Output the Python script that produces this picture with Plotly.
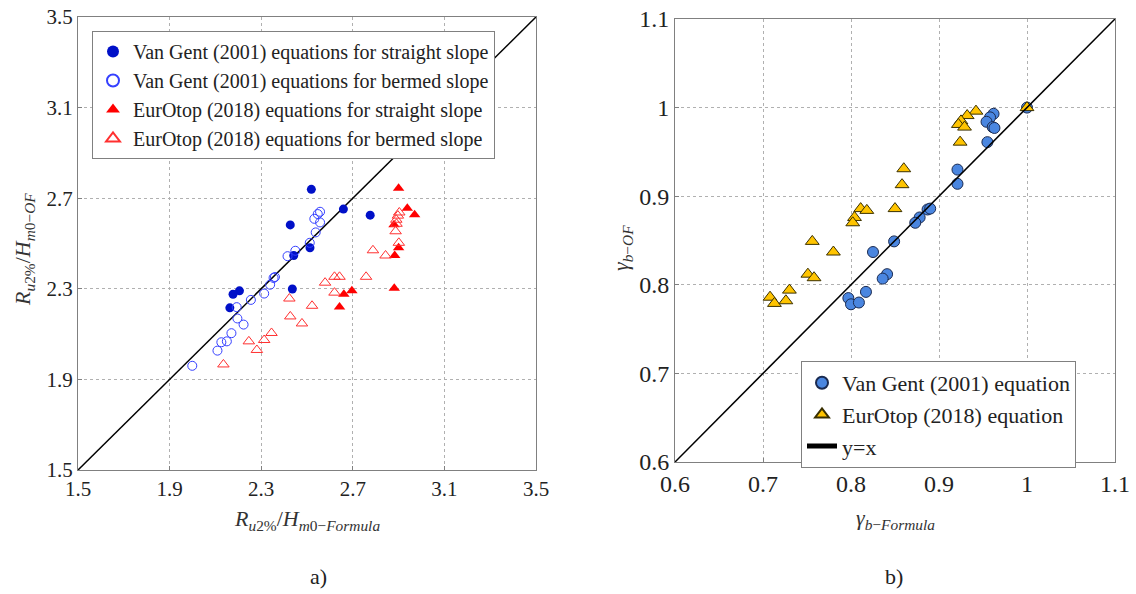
import plotly.graph_objects as go

# ---------- Panel a) data ----------
vg_straight_x = [2.519, 2.659, 2.776, 2.427, 2.513, 2.442, 2.436, 2.205, 2.177, 2.163]
vg_straight_y = [2.739, 2.652, 2.625, 2.582, 2.481, 2.447, 2.299, 2.291, 2.276, 2.216]

vg_bermed_x = [2.557, 2.547, 2.532, 2.557, 2.538, 2.512, 2.449, 2.415, 2.360, 2.354, 2.339,
               2.313, 2.255, 2.193, 2.196, 2.223, 2.170, 2.150, 2.126, 2.109, 1.999]
vg_bermed_y = [2.640, 2.630, 2.609, 2.593, 2.549, 2.503, 2.468, 2.444, 2.352, 2.348, 2.318,
               2.279, 2.251, 2.219, 2.169, 2.142, 2.104, 2.068, 2.064, 2.027, 1.960]

eo_straight_x = [2.900, 2.938, 2.970, 2.880, 2.900, 2.883, 2.881, 2.661, 2.696, 2.642]
eo_straight_y = [2.744, 2.656, 2.627, 2.583, 2.481, 2.447, 2.302, 2.276, 2.291, 2.220]

eo_bermed_x = [2.903, 2.897, 2.890, 2.891, 2.887, 2.901, 2.788, 2.843, 2.758, 2.642, 2.620,
               2.579, 2.620, 2.423, 2.522, 2.427, 2.478, 2.345, 2.313, 2.246, 2.281, 2.135]
eo_bermed_y = [2.637, 2.623, 2.605, 2.587, 2.554, 2.503, 2.470, 2.447, 2.353, 2.353, 2.353,
               2.327, 2.283, 2.257, 2.225, 2.178, 2.147, 2.105, 2.074, 2.068, 2.030, 1.966]

diag_a = [1.5, 3.5]
ticks_a = [1.5, 1.9, 2.3, 2.7, 3.1, 3.5]

# ---------- Panel b) data ----------
vg_eq_x = [1.000, 0.962, 0.958, 0.954, 0.961, 0.963, 0.955, 0.921, 0.921, 0.887, 0.890,
           0.878, 0.873, 0.849, 0.825, 0.841, 0.836, 0.817, 0.797, 0.800, 0.809]
vg_eq_y = [1.000, 0.993, 0.989, 0.984, 0.978, 0.977, 0.961, 0.930, 0.914, 0.885, 0.886,
           0.876, 0.870, 0.849, 0.837, 0.812, 0.807, 0.792, 0.785, 0.778, 0.780]

eo_eq_x = [1.000, 0.942, 0.932, 0.925, 0.922, 0.929, 0.924, 0.860, 0.858, 0.850, 0.811,
           0.818, 0.804, 0.802, 0.780, 0.756, 0.751, 0.758, 0.730, 0.708, 0.713, 0.726]
eo_eq_y = [1.000, 0.996, 0.991, 0.985, 0.981, 0.978, 0.961, 0.931, 0.913, 0.886, 0.886,
           0.884, 0.876, 0.870, 0.837, 0.849, 0.812, 0.808, 0.794, 0.786, 0.779, 0.782]

diag_b = [0.6, 1.1]
ticks_b = [0.6, 0.7, 0.8, 0.9, 1.0, 1.1]
tick_text_b = ["0.6", "0.7", "0.8", "0.9", "1", "1.1"]

# the page's body margin is removed by a post-script, so the figure fills the window
OFF = 0
W, H = 1136, 594
SERIF = "Liberation Serif"

fig = go.Figure()

# Panel a
fig.add_trace(go.Scatter(x=diag_a, y=diag_a, mode="lines", line=dict(color="black", width=1.5),
                         showlegend=False, xaxis="x", yaxis="y", hoverinfo="skip"))
fig.add_trace(go.Scatter(x=vg_straight_x, y=vg_straight_y, mode="markers",
                         name="Van Gent (2001) equations for straight slope",
                         marker=dict(symbol="circle", size=9, color="#0010c8", line=dict(width=0)),
                         xaxis="x", yaxis="y", legend="legend"))
fig.add_trace(go.Scatter(x=vg_bermed_x, y=vg_bermed_y, mode="markers",
                         name="Van Gent (2001) equations for bermed slope",
                         marker=dict(symbol="circle-open", size=9, color="#3540ff", line=dict(width=1)),
                         xaxis="x", yaxis="y", legend="legend"))
fig.add_trace(go.Scatter(x=eo_straight_x, y=eo_straight_y, mode="markers",
                         name="EurOtop (2018) equations for straight slope",
                         marker=dict(symbol="triangle-up", size=10, color="#ff0000", line=dict(width=0)),
                         xaxis="x", yaxis="y", legend="legend"))
fig.add_trace(go.Scatter(x=eo_bermed_x, y=eo_bermed_y, mode="markers",
                         name="EurOtop (2018) equations for bermed slope",
                         marker=dict(symbol="triangle-up-open", size=10, color="#ff3030", line=dict(width=1)),
                         xaxis="x", yaxis="y", legend="legend"))

# Panel b
fig.add_trace(go.Scatter(x=vg_eq_x, y=vg_eq_y, mode="markers", name="Van Gent (2001) equation",
                         marker=dict(symbol="circle", size=11, color="#4a86e0",
                                     line=dict(width=1, color="#1a2a50")),
                         xaxis="x2", yaxis="y2", legend="legend2"))
fig.add_trace(go.Scatter(x=eo_eq_x, y=eo_eq_y, mode="markers", name="EurOtop (2018) equation",
                         marker=dict(symbol="triangle-up", size=12, color="#ffc400",
                                     line=dict(width=1, color="#3a3000")),
                         xaxis="x2", yaxis="y2", legend="legend2"))
fig.add_trace(go.Scatter(x=diag_b, y=diag_b, mode="lines", name="y=x",
                         line=dict(color="black", width=1.5),
                         xaxis="x2", yaxis="y2", legend="legend2", hoverinfo="skip"))

def px_x(p):
    return (p - OFF) / W

def px_y(p):
    return 1 - (p - OFF) / H

def axis(domain, rng, vals, text, anchor, size):
    return dict(domain=domain, range=rng, tickvals=vals, ticktext=text, anchor=anchor,
                automargin=False, ticklabeloverflow="allow",
                showgrid=True, gridcolor="#b0b0b0", griddash="3px,3px", gridwidth=1,
                showline=True, linecolor="#808080", linewidth=1, mirror=True,
                zeroline=False, ticks="inside", ticklen=4, tickcolor="#808080",
                tickfont=dict(family=SERIF, color="#222", size=size))

fig.update_layout(
    template="none",
    width=W, height=H, margin=dict(l=0, r=0, t=0, b=0, pad=0),
    paper_bgcolor="white", plot_bgcolor="white",
    font=dict(family=SERIF, color="#222"),
    xaxis=axis([px_x(78), px_x(536)], [1.5, 3.5], ticks_a, [f"{v:.1f}" for v in ticks_a], "y", 21),
    yaxis=axis([px_y(470), px_y(17)], [1.5, 3.5], ticks_a, [f"{v:.1f}" for v in ticks_a], "x", 21),
    xaxis2=axis([px_x(675), px_x(1115)], [0.6, 1.1], ticks_b, tick_text_b, "y2", 24),
    yaxis2=axis([px_y(462), px_y(19)], [0.6, 1.1], ticks_b, tick_text_b, "x2", 24),
    legend=dict(x=px_x(92), y=px_y(31), xanchor="left", yanchor="top",
                bgcolor="white", bordercolor="#808080", borderwidth=1,
                font=dict(family=SERIF, size=20, color="#222"), tracegroupgap=0,
                itemsizing="constant"),
    legend2=dict(x=px_x(801), y=px_y(361), xanchor="left", yanchor="top",
                 bgcolor="white", bordercolor="#808080", borderwidth=1,
                 font=dict(family=SERIF, size=22, color="#222"), itemsizing="constant"),
)

ann_font = dict(family=SERIF, size=22, color="#333")
annotations = [
    dict(text="<i>R</i><sub><i>u</i>2%</sub>/<i>H</i><sub><i>m</i>0−<i>Formula</i></sub>",
         x=px_x(307), y=px_y(520), xref="paper", yref="paper", showarrow=False,
         font=ann_font, xanchor="center", yanchor="middle"),
    dict(text="<i>R</i><sub><i>u</i>2%</sub>/<i>H</i><sub><i>m</i>0−<i>OF</i></sub>",
         x=px_x(24), y=px_y(250), xref="paper", yref="paper", showarrow=False,
         font=ann_font, textangle=-90, xanchor="center", yanchor="middle"),
    dict(text="<i>γ</i><sub><i>b</i>−<i>Formula</i></sub>",
         x=px_x(895), y=px_y(519), xref="paper", yref="paper", showarrow=False,
         font=ann_font, xanchor="center", yanchor="middle"),
    dict(text="<i>γ</i><sub><i>b</i>−<i>OF</i></sub>",
         x=px_x(622), y=px_y(248), xref="paper", yref="paper", showarrow=False,
         font=ann_font, textangle=-90, xanchor="center", yanchor="middle"),
    dict(text="a)", x=px_x(318), y=px_y(576), xref="paper", yref="paper", showarrow=False,
         font=dict(family=SERIF, size=22, color="#222"), xanchor="center", yanchor="middle"),
    dict(text="b)", x=px_x(894), y=px_y(576), xref="paper", yref="paper", showarrow=False,
         font=dict(family=SERIF, size=22, color="#222"), xanchor="center", yanchor="middle"),
]
fig.update_layout(annotations=annotations)

fig.write_html("out.html", config={"displayModeBar": False},
               post_script="document.body.style.margin='0';document.body.style.overflow='hidden';")
